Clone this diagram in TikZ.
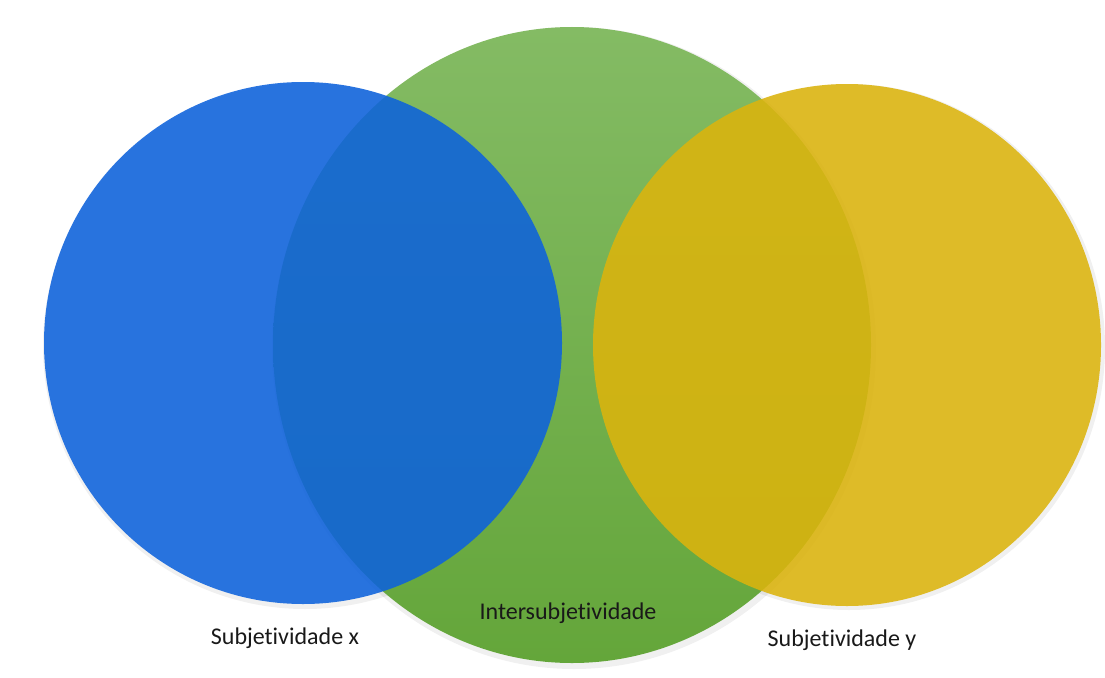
\documentclass[tikz,border=0pt]{standalone}
\usepackage{fontspec}
\setmainfont[Ligatures=CommonOff]{Carlito}
\definecolor{blueC}{RGB}{13,98,220}
\definecolor{yellowC}{RGB}{220,180,13}
\definecolor{greenTop}{RGB}{132,187,100}
\definecolor{greenBot}{RGB}{100,166,58}
\definecolor{textC}{RGB}{25,25,25}
\tikzset{
  lbl/.style={font=\fontsize{24}{28}\selectfont, text=textC, inner sep=0pt},
  setfill/.style={fill opacity=0.88}
}
\begin{document}
\begin{tikzpicture}[x=1pt,y=-1pt]
\useasboundingbox[fill=white] (0,0) rectangle (1105,677);
% soft shadows
\fill[black, opacity=0.06] (574,348) ellipse [x radius=302pt, y radius=321pt];
\fill[black, opacity=0.06] (305,346) ellipse [x radius=262pt, y radius=263pt];
\fill[black, opacity=0.06] (849,347) ellipse [x radius=256pt, y radius=263pt];
% green
\shade[top color=greenTop, bottom color=greenBot] (572,345) ellipse [x radius=299pt, y radius=318pt];
% blue
\fill[blueC, setfill] (303,343) ellipse [x radius=259pt, y radius=261pt];
% yellow
\fill[yellowC, setfill] (847,345) ellipse [x radius=254pt, y radius=261pt];
% labels
\node[lbl] (sx) at (285,638) {Subjetividade x};
\node[lbl] (inter) at (568,613) {Intersubjetividade};
\node[lbl] (sy) at (842,640) {Subjetividade y};
\end{tikzpicture}
\end{document}
